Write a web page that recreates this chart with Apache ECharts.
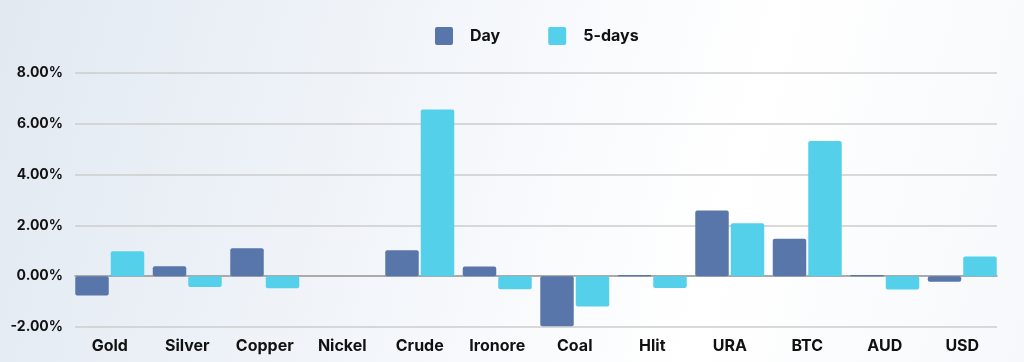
<!DOCTYPE html>
<html>
<head>
<meta charset="utf-8">
<script src="https://cdn.jsdelivr.net/npm/echarts@6/dist/echarts.min.js"></script>
<style>
html,body{margin:0;padding:0;}
body{width:1024px;height:362px;background:linear-gradient(105deg,#e2e9f1 0%,#ecf1f7 25%,#f7f9fc 50%,#ffffff 70%,#f6f8fb 100%);}
#c{width:1024px;height:362px;}
</style>
</head>
<body>
<div id="c"></div>
<script>
var categories = ['Gold','Silver','Copper','Nickel','Crude','Ironore','Coal','Hlit','URA','BTC','AUD','USD'];
var dayValues = [-0.76, 0.39, 1.10, 0.00, 1.02, 0.38, -1.97, 0.05, 2.59, 1.47, 0.05, -0.22];
var fiveDayValues = [0.98, -0.43, -0.47, 0.00, 6.56, -0.51, -1.19, -0.46, 2.08, 5.32, -0.52, 0.78];
var seriesNames = ['Day', '5-days'];
var yMin = -2, yMax = 8, yStep = 2;

var font = 'Inter, "Open Sans", sans-serif';
var chart = echarts.init(document.getElementById('c'), null, {renderer:'canvas'});
chart.setOption({
  backgroundColor: 'transparent',
  animation: false,
  legend: {
    top: 22,
    left: 430,
    itemWidth: 18,
    itemHeight: 18,
    itemGap: 48,
    icon: 'path://M2,0 L16,0 Q18,0 18,2 L18,16 Q18,18 16,18 L2,18 Q0,18 0,16 L0,2 Q0,0 2,0 Z',
    textStyle: {fontFamily: font, fontWeight: 'bold', fontSize: 16, color: '#111', padding:[0,0,0,12]},
    data: seriesNames
  },
  grid: [
    {left: 71, right: 23, top: 73, bottom: 35, containLabel: false},
    {left: 75, right: 27, top: 73, bottom: 35, containLabel: false}
  ],
  xAxis: [
    {
      type: 'category', gridIndex: 0,
      data: categories,
      axisLine: {show: false},
      axisTick: {show: false},
      axisLabel: {
        show: true, interval: 0, fontFamily: font, fontWeight: 'bold', fontSize: 16, color: '#111',
        margin: 11
      }
    },
    {
      type: 'value', gridIndex: 1, min: 0, max: 1,
      axisLine: {show: true, onZero: true, lineStyle: {color: '#9a9a9a', width: 1.5}},
      axisTick: {show: false}, axisLabel: {show: false}, splitLine: {show: false}
    }
  ],
  yAxis: [
    {
      type: 'value', gridIndex: 0,
      min: yMin, max: yMax, interval: yStep,
      axisLine: {show: false}, axisTick: {show: false},
      splitLine: {show: false}, axisLabel: {show: false}
    },
    {
      type: 'value', gridIndex: 1,
      min: yMin, max: yMax, interval: yStep,
      axisLine: {show: false},
      axisTick: {show: false},
      splitLine: {lineStyle: {color: '#cccccc', width: 1.5}},
      axisLabel: {
        fontFamily: font, fontWeight: 'bold', fontSize: 14, color: '#111', margin: 12,
        formatter: function(v){return v.toFixed(2) + '%';}
      }
    }
  ],
  series: [
    {
      name: seriesNames[0], type: 'bar', data: dayValues, xAxisIndex: 0, yAxisIndex: 0,
      barGap: '6%', barCategoryGap: '11%', z: 3,
      itemStyle: {color: '#5876aa', borderRadius: 2}
    },
    {
      name: seriesNames[1], type: 'bar', data: fiveDayValues, xAxisIndex: 0, yAxisIndex: 0,
      barGap: '6%', barCategoryGap: '11%', z: 3,
      itemStyle: {color: '#54d0eb', borderRadius: 2}
    }
  ]
});
</script>
</body>
</html>
